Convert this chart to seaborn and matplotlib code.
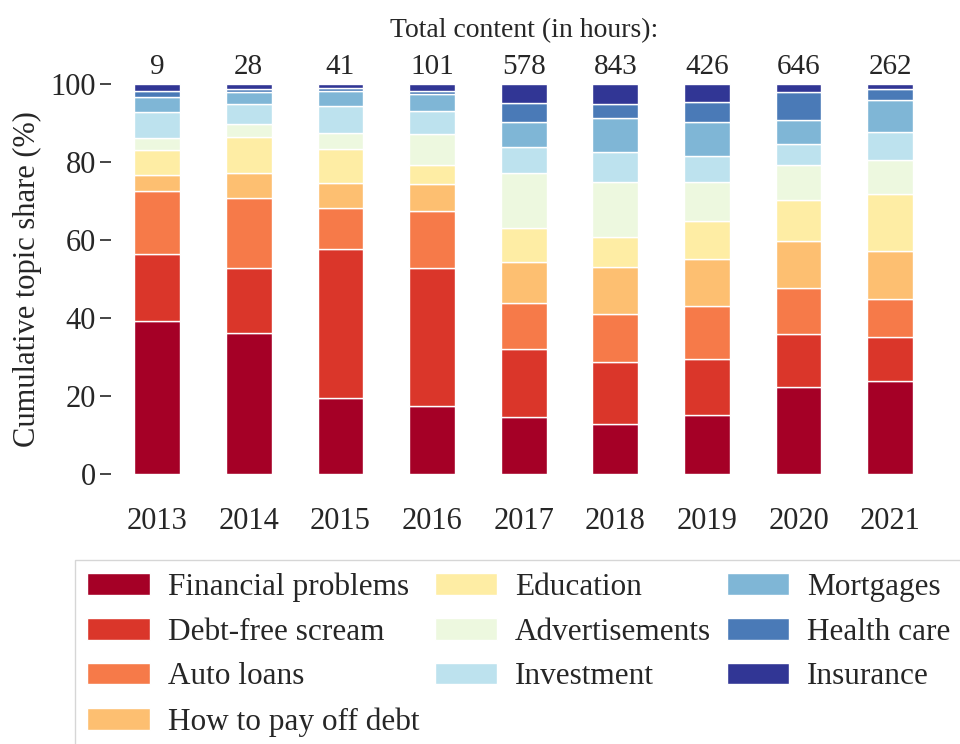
import numpy as np
import pandas as pd
import matplotlib
matplotlib.use("Agg")
import matplotlib.pyplot as plt
import seaborn as sns
from matplotlib.patches import Patch

sns.set_style("ticks")
plt.rcParams['font.family'] = ['Liberation Serif', 'DejaVu Serif']

years = ['2013', '2014', '2015', '2016', '2017', '2018', '2019', '2020', '2021']
totals = [9, 28, 41, 101, 578, 843, 426, 646, 262]
topics = ['Financial problems', 'Debt-free scream', 'Auto loans', 'How to pay off debt',
          'Education', 'Advertisements', 'Investment', 'Mortgages', 'Health care', 'Insurance']

# share (%) per topic, one value per year
financial = [39.1, 36.1, 19.4, 17.5, 14.7, 12.9, 15.0, 22.3, 23.8]
debt_free = [17.3, 16.8, 38.3, 35.4, 17.4, 15.9, 14.4, 13.5, 11.4]
auto = [16.2, 17.8, 10.5, 14.5, 11.7, 12.3, 13.8, 12.0, 9.7]
pay_off = [4.1, 6.6, 6.3, 6.9, 10.6, 12.1, 12.0, 12.0, 12.2]
education = [6.3, 9.1, 8.8, 5.0, 8.6, 7.7, 9.8, 10.5, 14.7]
ads = [3.1, 3.3, 4.1, 8.0, 14.1, 14.1, 9.8, 8.9, 8.7]
investment = [6.8, 5.2, 7.0, 5.9, 6.8, 7.5, 6.8, 5.5, 7.1]
mortgages = [3.9, 3.1, 3.9, 4.3, 6.4, 8.7, 8.6, 6.0, 8.4]
health = [1.3, 0.7, 0.8, 0.7, 4.8, 3.6, 5.1, 7.2, 2.7]
insurance = [1.9, 1.3, 0.9, 1.8, 4.9, 5.2, 4.7, 2.1, 1.3]

series = [financial, debt_free, auto, pay_off, education, ads, investment, mortgages, health, insurance]
df = pd.DataFrame(dict(zip(topics, series)), index=years)

colors = plt.cm.RdYlBu(np.linspace(0, 1, len(topics)))

fig = plt.figure(figsize=(9.6, 7.44), dpi=100)
ax = fig.add_axes([0.116, 0.363, 0.859, 0.524])

base = np.zeros(len(years))
for topic, c in zip(topics, colors):
    sns.barplot(x=years, y=df[topic].values, bottom=base, color=c, width=0.5,
                edgecolor='white', linewidth=1, errorbar=None, ax=ax, saturation=1)
    base += df[topic].values

ax.set_ylim(0, 100)
ax.set_xlim(-0.5, 8.5)
ax.set_yticks([0, 20, 40, 60, 80, 100])
ax.tick_params(axis='y', labelsize=22, length=8, width=1.2, pad=3)
ax.tick_params(axis='x', labelsize=22, length=0, pad=24)
ax.set_ylabel('Cumulative topic share (%)', fontsize=22, labelpad=6)
sns.despine(ax=ax, left=True, bottom=True)

ax2 = ax.twiny()
ax2.set_xlim(ax.get_xlim())
ax2.set_xticks(range(len(years)))
ax2.set_xticklabels([str(t) for t in totals])
ax2.tick_params(axis='x', labelsize=21, length=0, pad=3)
ax2.set_xlabel('Total content (in hours):', fontsize=20, labelpad=12)
for s in ax2.spines.values():
    s.set_visible(False)

handles = [Patch(facecolor=c, edgecolor='white', label=t) for t, c in zip(topics, colors)]
leg = fig.legend(handles=handles, loc='upper left', bbox_to_anchor=(0.078, 0.247),
                 ncol=3, fontsize=22.5, frameon=True, fancybox=False, borderaxespad=0,
                 handlelength=2.0, handletextpad=0.57, columnspacing=0.5, labelspacing=0.5,
                 borderpad=0.4)
leg.get_frame().set_edgecolor('#cccccc')

fig.savefig('out.png', dpi=100)
